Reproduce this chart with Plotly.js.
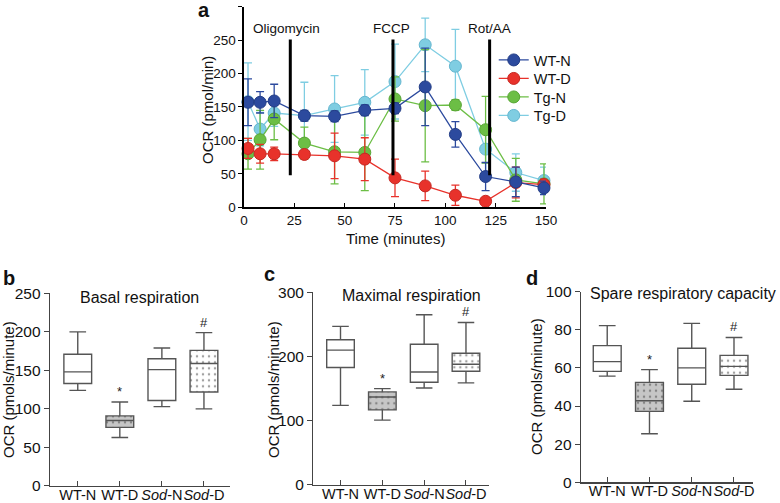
<!DOCTYPE html>
<html>
<head>
<meta charset="utf-8">
<script src="https://cdn.plot.ly/plotly-3.0.1.min.js"></script>
<style>html,body{margin:0;padding:0;background:#fff;}#chart{width:780px;height:503px;}</style>
</head>
<body>
<div id="chart"></div>
<script>
// ---------- Panel a: OCR time course ----------
const times = [2, 8, 15, 30, 45, 60, 75, 90, 105, 120, 135, 149];
const wtN    = [157, 157, 159, 137, 136, 145, 148, 180, 109, 46, 38, 29];
const wtNErr = [35, 16, 25, 8, 8, 8, 8, 58, 19, 21, 22, 10];
const wtD    = [88, 80, 80, 79, 77, 72, 44, 32, 18, 9, 37, 34];
const wtDErr = [15, 14, 10, 3, 34, 32, 28, 22, 15, 3, 23, 8];
const tgN    = [80, 101, 132, 96, 83, 82, 162, 152, 153, 116, 41, 35];
const tgNErr = [23, 44, 31, 24, 48, 57, 33, 84, 8, 50, 32, 30];
const tgD    = [158, 117, 141, 137, 147, 157, 188, 243, 211, 87, 52, 40];
const tgDErr = [58, 25, 20, 50, 50, 49, 56, 40, 55, 35, 28, 20];
const seriesNames = ['WT-N', 'WT-D', 'Tg-N', 'Tg-D'];

const injectionTimes  = [23, 74, 122];
const injectionLabels = ['Oligomycin', 'FCCP', 'Rot/AA'];
const injectionLabelX = [21, 73.5, 122];
const injectionLineY  = [48, 251];
const injectionLabelY = 267;

// ---------- Panels b-d: box plots ----------
const groups = ['WT-N', 'WT-D', 'Sod-N', 'Sod-D'];
const groupTicks = ['WT-N', 'WT-D', '<i>Sod</i>-N', '<i>Sod</i>-D'];
const sigMarks = ['', '*', '', '#'];

const basalLow = [124, 63, 103, 100];
const basalQ1  = [133, 76, 111, 122];
const basalMed = [148, 85, 151, 159];
const basalQ3  = [171, 91, 165, 176];
const basalHigh= [200, 109, 179, 199];

const maxLow  = [124, 101, 151, 159];
const maxQ1   = [183, 117, 160, 177];
const maxMed  = [210, 137, 176, 188];
const maxQ3   = [226, 145, 219, 205];
const maxHigh = [247, 150, 265, 253];

const spareLow  = [55.7, 25.5, 42.5, 48.8];
const spareQ1   = [58.2, 37.2, 51.4, 56.1];
const spareMed  = [63.3, 42.8, 60.0, 60.8];
const spareQ3   = [71.7, 52.4, 70.3, 66.6];
const spareHigh = [82.2, 59.1, 83.4, 76.0];

const FONT = '"Liberation Sans", Arial, Helvetica, sans-serif';
const colors = {'WT-N': '#2c4a9e', 'WT-D': '#e8322b', 'Tg-N': '#6cbe45', 'Tg-D': '#7fcde2'};
const edge   = {'WT-N': '#233d86', 'WT-D': '#c52822', 'Tg-N': '#57a534', 'Tg-D': '#64b6cf'};
const legendIds = {'WT-N': 'legend', 'WT-D': 'legend2', 'Tg-N': 'legend3', 'Tg-D': 'legend4'};

const traces = [];
// draw order: Tg-D, Tg-N, WT-D, WT-N (WT-N on top)
const seriesData = {'WT-N': [wtN, wtNErr], 'WT-D': [wtD, wtDErr], 'Tg-N': [tgN, tgNErr], 'Tg-D': [tgD, tgDErr]};
['Tg-D', 'Tg-N', 'WT-D', 'WT-N'].forEach(name => {
  const [vals, errs] = seriesData[name];
  traces.push({
    type: 'scatter', mode: 'lines+markers', name: name, legend: legendIds[name],
    x: times, y: vals, xaxis: 'x', yaxis: 'y', cliponaxis: false,
    line: {color: colors[name], width: 1.3},
    marker: {color: colors[name], size: 12, line: {color: edge[name], width: 1}},
    error_y: {type: 'data', array: errs, visible: true, color: colors[name], thickness: 1.3, width: 4}
  });
});
injectionTimes.forEach(t => {
  traces.push({
    type: 'scatter', mode: 'lines', x: [t, t], y: injectionLineY, xaxis: 'x', yaxis: 'y',
    line: {color: '#000', width: 3}, showlegend: false, hoverinfo: 'skip'
  });
});

// box panels
const panels = [
  {ax: '2', low: basalLow, q1: basalQ1, med: basalMed, q3: basalQ3, high: basalHigh},
  {ax: '3', low: maxLow, q1: maxQ1, med: maxMed, q3: maxQ3, high: maxHigh},
  {ax: '4', low: spareLow, q1: spareQ1, med: spareMed, q3: spareQ3, high: spareHigh}
];
const idx = [0, 1, 2, 3];
const BOXW = 0.66;
const patternFill = [null, '#c6c6c6', null, '#ffffff'];
panels.forEach(p => {
  const pi = idx.filter(i => patternFill[i]);
  traces.push({
    type: 'bar', x: pi, base: pi.map(i => p.q1[i]), y: pi.map(i => p.q3[i] - p.q1[i]),
    width: BOXW, xaxis: 'x' + p.ax, yaxis: 'y' + p.ax, showlegend: false, hoverinfo: 'skip',
    marker: {color: pi.map(i => patternFill[i]), line: {width: 0},
      pattern: {shape: '.', fillmode: 'overlay', fgcolor: '#333', size: 6, solidity: 0.14}}
  });
  traces.push({
    type: 'box', x: idx, q1: p.q1, median: p.med, q3: p.q3, lowerfence: p.low, upperfence: p.high,
    xaxis: 'x' + p.ax, yaxis: 'y' + p.ax, showlegend: false, boxpoints: false,
    width: BOXW, whiskerwidth: 0.6, fillcolor: 'rgba(0,0,0,0)',
    line: {color: '#555', width: 1.4}, hoverinfo: 'skip'
  });
});

const tickFontA = {family: FONT, size: 13.5, color: '#111'};
const tickFontB = {family: FONT, size: 15.5, color: '#111'};
const tickFontX = {family: FONT, size: 14.5, color: '#111'};
const baseAxis = {showline: true, showgrid: false, zeroline: false, fixedrange: true};

const legendStyle = (yc) => ({x: 0.633, y: 1 - yc / 503, xanchor: 'left', yanchor: 'middle',
  font: {family: FONT, size: 14.5, color: '#111'}, bgcolor: 'rgba(0,0,0,0)', borderwidth: 0});

const layout = {
  width: 780, height: 503, margin: {l: 0, r: 0, t: 0, b: 0},
  paper_bgcolor: '#fff', plot_bgcolor: 'rgba(0,0,0,0)',
  font: {family: FONT, color: '#111'},
  showlegend: true,
  legend: legendStyle(60), legend2: legendStyle(78.5), legend3: legendStyle(97), legend4: legendStyle(115.5),
  bargap: 0,
  xaxis: Object.assign({}, baseAxis, {domain: [0.3128, 0.7], range: [0, 150], tickvals: [0, 25, 50, 75, 100, 125, 150],
    ticks: 'inside', tickangle: 0, linecolor: '#000', linewidth: 1.5, ticklen: 4, tickcolor: '#000', tickfont: tickFontA, anchor: 'y'}),
  yaxis: Object.assign({}, baseAxis, {domain: [0.5879, 0.9867], range: [0, 300], tickvals: [0, 50, 100, 150, 200, 250, 300],
    ticks: 'outside', linecolor: '#000', linewidth: 1.5, ticklen: 4, tickcolor: '#000', tickfont: tickFontA, anchor: 'x'}),
  annotations: []
};
const boxAxes = [
  {ax: '2', xd: [0.0641, 0.2949], xr: [-0.66, 3.62], yd: [0.0338, 0.4169], yr: [0, 250], dt: 50},
  {ax: '3', xd: [0.4017, 0.6269], xr: [-0.65, 3.55], yd: [0.0358, 0.4189], yr: [0, 300], dt: 100},
  {ax: '4', xd: [0.7449, 0.9654], xr: [-0.62, 3.45], yd: [0.0412, 0.4201], yr: [0, 100], dt: 20}
];
boxAxes.forEach(b => {
  layout['xaxis' + b.ax] = Object.assign({}, baseAxis, {domain: b.xd, range: b.xr, tickvals: idx, ticktext: groupTicks,
    ticks: 'inside', tickangle: 0, ticklabelstandoff: -5, linecolor: '#444', linewidth: 1.3, ticklen: 5, tickcolor: '#444',
    tickfont: tickFontX, anchor: 'y' + b.ax});
  layout['yaxis' + b.ax] = Object.assign({}, baseAxis, {domain: b.yd, range: b.yr, dtick: b.dt, tick0: 0,
    ticks: 'outside', linecolor: '#444', linewidth: 1.3, ticklen: 5, tickcolor: '#444', tickfont: tickFontB, anchor: 'x' + b.ax});
});

// significance marks above upper whiskers
panels.forEach(p => {
  idx.forEach(i => {
    if (!sigMarks[i]) return;
    layout.annotations.push({xref: 'x' + p.ax, yref: 'y' + p.ax, x: i, y: p.high[i], text: sigMarks[i],
      showarrow: false, yanchor: 'bottom', yshift: 1, font: {family: FONT, size: 13, color: '#222'}});
  });
});
// injection labels
injectionTimes.forEach((t, i) => {
  layout.annotations.push({xref: 'x', yref: 'y', x: injectionLabelX[i], y: injectionLabelY, text: injectionLabels[i],
    showarrow: false, xanchor: 'center', yanchor: 'middle', font: {family: FONT, size: 13.5, color: '#111'}});
});
const paperText = [
  {x: 203.5, y: 10, text: '<b>a</b>', size: 20},
  {x: 9, y: 278, text: '<b>b</b>', size: 20},
  {x: 269, y: 274, text: '<b>c</b>', size: 20},
  {x: 532, y: 278, text: '<b>d</b>', size: 20},
  {x: 139, y: 297, text: 'Basal respiration', size: 16},
  {x: 411, y: 295, text: 'Maximal respiration', size: 16},
  {x: 683, y: 293, text: 'Spare respiratory capacity', size: 16},
  {x: 395, y: 238, text: 'Time (minutes)', size: 15}
];
paperText.forEach(a => layout.annotations.push({xref: 'paper', yref: 'paper', x: a.x / 780, y: 1 - a.y / 503,
  text: a.text, showarrow: false, xanchor: 'center', yanchor: 'middle', font: {family: FONT, size: a.size, color: '#111'}}));
const vTitles = [
  {x: 207, y: 110, text: 'OCR (pmol/min)'},
  {x: 8, y: 390, text: 'OCR (pmols/minute)'},
  {x: 273, y: 390, text: 'OCR (pmols/minute)'},
  {x: 536, y: 387, text: 'OCR (pmols/minute)'}
];
vTitles.forEach(a => layout.annotations.push({xref: 'paper', yref: 'paper', x: a.x / 780, y: 1 - a.y / 503,
  text: a.text, textangle: -90, showarrow: false, xanchor: 'center', yanchor: 'middle', font: {family: FONT, size: 15, color: '#111'}}));

Plotly.newPlot('chart', traces, layout, {displayModeBar: false, staticPlot: true});
</script>
</body>
</html>
